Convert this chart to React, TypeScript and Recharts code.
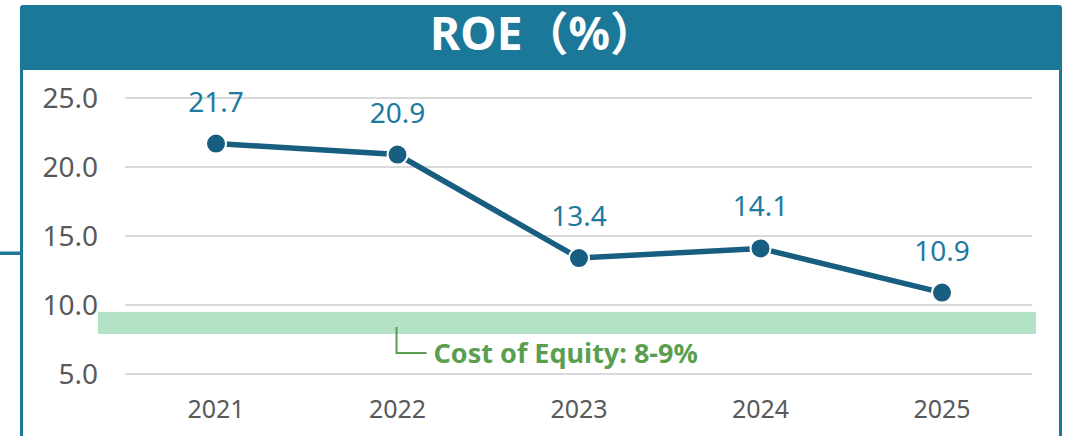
import React from 'react'
import {
  LineChart,
  Line,
  XAxis,
  YAxis,
  CartesianGrid,
  ReferenceArea,
  ReferenceDot,
  LabelList,
} from 'recharts'

// ROE by fiscal year
const years = ['2021', '2022', '2023', '2024', '2025']
const roe = [21.7, 20.9, 13.4, 14.1, 10.9]
const yTicks = [5, 10, 15, 20, 25]
const costOfEquityBand = [7.9, 9.5]
const costOfEquityLabel = 'Cost of Equity: 8-9%'
const leaderYear = '2022'
const leaderValue = 8.4
const title = 'ROE（%）'

const data = years.map((year, i) => ({ year, roe: roe[i] }))

const TEAL = '#1b7899'
const LINE = '#185e81'
const LABEL = '#1e7aa0'
const GREEN = '#5a9f4f'
const BAND = '#b3e2c6'
const GRAY = '#595959'
const FONT = '"Noto Sans", "Noto Sans CJK JP", sans-serif'

const W = 1066
const H = 436

function Frame() {
  return (
    <svg width={W} height={H} style={{ position: 'absolute', left: 0, top: 0 }}>
      <path d="M20,70 V8 Q20,5 23,5 H1059 Q1062,5 1062,8 V70 Z" fill={TEAL} />
      <rect x={20} y={70} width={3} height={H - 70} fill={TEAL} />
      <rect x={1059} y={70} width={3} height={H - 70} fill={TEAL} />
      <rect x={0} y={251.5} width={20} height={3.5} fill={TEAL} />
      <text
        x={543}
        y={50}
        textAnchor="middle"
        fill="#fff"
        fontFamily={FONT}
        fontWeight={700}
        fontSize={46}
      >
        {title}
      </text>
    </svg>
  )
}

const ValueLabel = (props: any) => {
  const { x, y, value } = props
  return (
    <text x={x} y={y - 32} textAnchor="middle" fill={LABEL} fontFamily={FONT} fontSize={28}>
      {Number(value).toFixed(1)}
    </text>
  )
}

// the band runs from the first to the last category; stretch it past the plot edges like the original
const Band = (props: any) => {
  const { x, y, width, height } = props
  return <rect x={x - 118} y={y} width={width + 212} height={height} fill={BAND} />
}

const Leader = (props: any) => {
  const { cx, cy } = props
  return (
    <g>
      <path
        d={`M${cx - 1},${cy} V${cy + 26} H${cx + 29}`}
        fill="none"
        stroke={GREEN}
        strokeWidth={2}
      />
      <text
        x={cx + 36}
        y={cy + 26}
        dy="0.35em"
        fill={GREEN}
        fontFamily={FONT}
        fontWeight={700}
        fontSize={27}
      >
        {costOfEquityLabel}
      </text>
    </g>
  )
}

export default function App() {
  return (
    <div style={{ position: 'fixed', left: 0, top: 0, width: W, height: H, background: '#fff' }}>
      <Frame />
      <div style={{ position: 'absolute', left: 0, top: 0 }}>
        <LineChart width={W} height={H} data={data} margin={{ top: 98, right: 34, left: 0, bottom: 0 }}>
          <CartesianGrid vertical={false} stroke="#d9d9d9" strokeWidth={2} />
          <ReferenceArea y1={costOfEquityBand[0]} y2={costOfEquityBand[1]} shape={Band} />
          <XAxis
            dataKey="year"
            axisLine={false}
            tickLine={false}
            height={62}
            tickMargin={20}
            padding={{ left: 91, right: 90 }}
            tick={{ fill: GRAY, fontSize: 25, fontFamily: FONT }}
          />
          <YAxis
            domain={[5, 25]}
            ticks={yTicks}
            width={125}
            axisLine={false}
            tickLine={false}
            tickMargin={21}
            tickFormatter={(v: number) => v.toFixed(1)}
            tick={{ fill: GRAY, fontSize: 28, fontFamily: FONT }}
          />
          <ReferenceDot x={leaderYear} y={leaderValue} shape={Leader} />
          <Line
            type="linear"
            dataKey="roe"
            stroke={LINE}
            strokeWidth={5.5}
            dot={{ r: 10, fill: LINE, stroke: '#fff', strokeWidth: 2 }}
            activeDot={false}
            isAnimationActive={false}
          >
            <LabelList dataKey="roe" content={ValueLabel} />
          </Line>
        </LineChart>
      </div>
    </div>
  )
}
